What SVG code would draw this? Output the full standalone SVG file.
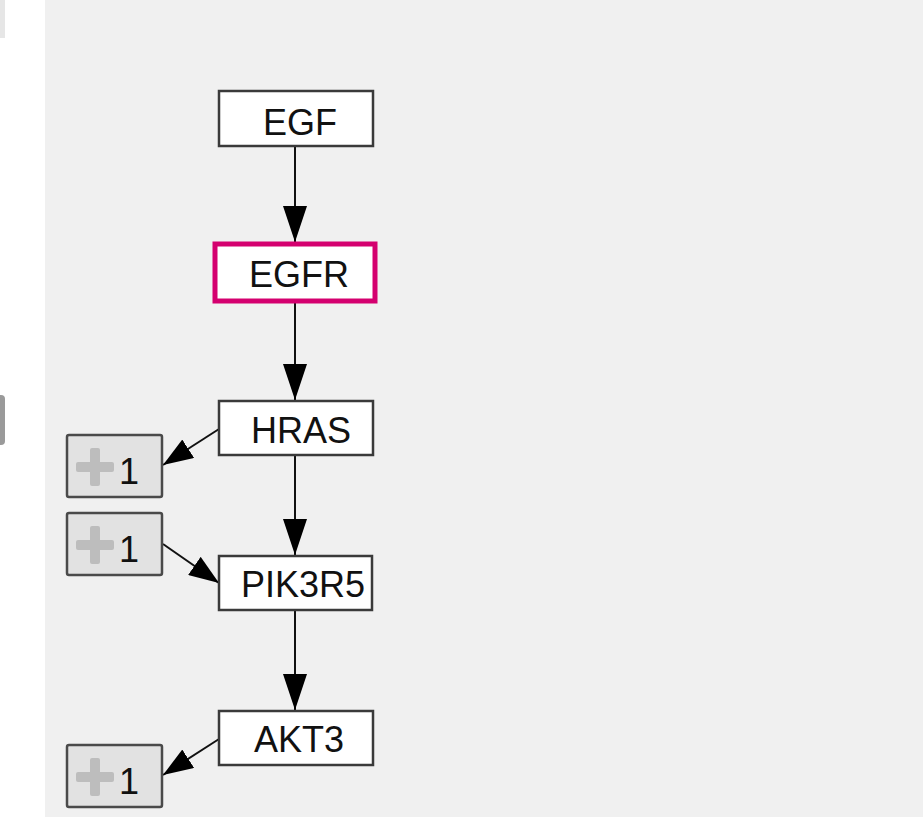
<svg xmlns="http://www.w3.org/2000/svg" width="923" height="817" viewBox="0 0 923 817">
<defs>
<style>
.node rect{fill:#ffffff;stroke:#3a3a3a;stroke-width:2.5}
.node text{font-family:"Liberation Sans",Arial,sans-serif;font-size:36px;fill:#111;text-anchor:middle}
.hl rect{fill:#ffffff;stroke:#d4006f;stroke-width:5}
.more rect.b{fill:#e2e2e2;stroke:#4a4a4a;stroke-width:2.5}
.more text{font-family:"Liberation Sans",Arial,sans-serif;font-size:36px;fill:#111}
.more .plus{fill:#bdbdbd}
.edge{stroke:#111;stroke-width:2;fill:none}
</style>
<marker id="arrv" viewBox="0 0 36 24" refX="36" refY="12" markerWidth="36" markerHeight="24" markerUnits="userSpaceOnUse" orient="auto">
<path d="M0,0 L36,12 L0,24 Z" fill="#000"/>
</marker>
<marker id="arrd" viewBox="0 0 30 22" refX="30" refY="11" markerWidth="30" markerHeight="22" markerUnits="userSpaceOnUse" orient="auto">
<path d="M0,0 L30,11 L0,22 Z" fill="#000"/>
</marker>
</defs>
<rect x="0" y="0" width="923" height="817" fill="#ffffff"/>
<rect x="45" y="0" width="878" height="817" fill="#f0f0f0"/>
<rect x="0" y="0" width="5" height="38" fill="#e6e6e6"/>
<rect x="-4" y="395" width="9" height="50" rx="4" fill="#9a9a9a"/>
<g id="connectors">
<line class="edge" x1="295" y1="146" x2="295" y2="242" marker-end="url(#arrv)"/>
<line class="edge" x1="295" y1="303" x2="295" y2="400" marker-end="url(#arrv)"/>
<line class="edge" x1="295" y1="455" x2="295" y2="555" marker-end="url(#arrv)"/>
<line class="edge" x1="295" y1="610" x2="295" y2="710" marker-end="url(#arrv)"/>
<line class="edge" x1="219" y1="429" x2="163" y2="465" marker-end="url(#arrd)"/>
<line class="edge" x1="163" y1="544" x2="219" y2="583" marker-end="url(#arrd)"/>
<line class="edge" x1="219" y1="739" x2="163" y2="775" marker-end="url(#arrd)"/>
</g>
<g id="EGF" class="node"><rect x="219" y="91" width="154" height="55"/><text x="300" y="135">EGF</text></g>
<g id="EGFR" class="node hl"><rect x="215" y="244" width="160" height="57"/><text x="299" y="287">EGFR</text></g>
<g id="HRAS" class="node"><rect x="219" y="401" width="154" height="54"/><text x="301" y="443">HRAS</text></g>
<g id="PIK3R5" class="node"><rect x="219" y="556" width="153" height="54"/><text x="303" y="597">PIK3R5</text></g>
<g id="AKT3" class="node"><rect x="219" y="711" width="154" height="54"/><text x="299" y="752">AKT3</text></g>
<g id="more1" class="more"><rect class="b" x="67" y="435" width="95" height="62" rx="2"/><rect class="plus" x="76" y="462" width="38" height="10" rx="2"/><rect class="plus" x="90" y="448" width="10" height="38" rx="2"/><text x="119" y="484">1</text></g>
<g id="more2" class="more"><rect class="b" x="67" y="513" width="95" height="62" rx="2"/><rect class="plus" x="76" y="540" width="38" height="10" rx="2"/><rect class="plus" x="90" y="526" width="10" height="38" rx="2"/><text x="119" y="562">1</text></g>
<g id="more3" class="more"><rect class="b" x="67" y="745" width="95" height="62" rx="2"/><rect class="plus" x="76" y="772" width="38" height="10" rx="2"/><rect class="plus" x="90" y="758" width="10" height="38" rx="2"/><text x="119" y="794">1</text></g>
</svg>
